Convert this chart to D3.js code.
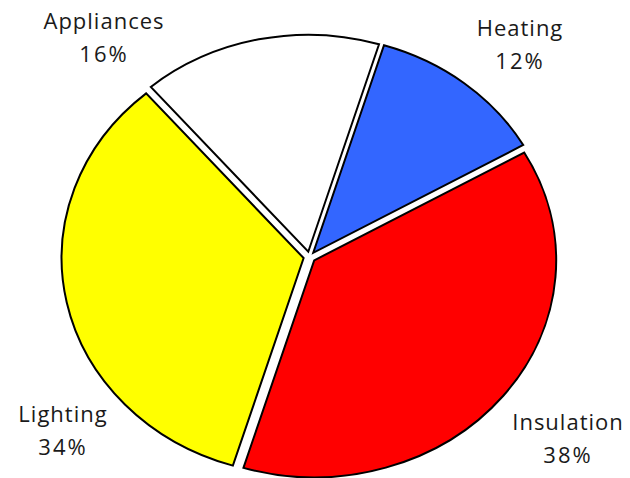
<!DOCTYPE html>
<html>
<head>
<meta charset="utf-8">
<script src="https://cdn.jsdelivr.net/npm/d3@7"></script>
<style>
  html, body { margin: 0; padding: 0; background: #fff; }
  text { font-family: "Open Sans", sans-serif; font-weight: 400; fill: #1a1a1a; }
</style>
</head>
<body>
<div id="chart"></div>
<script>
// data
const categories = ["Heating", "Insulation", "Lighting", "Appliances"];
const shares = [12, 38, 34, 16];
const colors = ["#3366ff", "#ff0000", "#ffff00", "#ffffff"];

const width = 630,
  height = 478,
  cx = 309.5,
  cy = 257,
  rx = 242,
  ry = 217,
  explode = 6;

// label positions (centre x, baseline of first line)
const labelPos = [[520, 35.5], [568, 430], [63, 422], [104, 29]];

const data = categories.map((c, i) => ({ name: c, value: shares[i], color: colors[i] }));

const start = 17 * Math.PI / 180;
const pie = d3.pie()
  .sort(null)
  .value(d => d.value)
  .startAngle(start)
  .endAngle(start + 2 * Math.PI);

const arc = d3.arc().innerRadius(0).outerRadius(rx);

const svg = d3.select("#chart")
  .append("svg")
  .attr("width", width)
  .attr("height", height);

const g = svg.append("g")
  .attr("transform", `translate(${cx},${cy}) scale(1,${ry / rx})`);

const slice = g.selectAll("g.slice")
  .data(pie(data))
  .enter()
  .append("g")
  .attr("class", "slice")
  .attr("transform", d => {
    const m = (d.startAngle + d.endAngle) / 2;
    return `translate(${Math.sin(m) * explode},${-Math.cos(m) * explode})`;
  });

slice.append("path")
  .attr("d", arc)
  .attr("fill", d => d.data.color)
  .attr("stroke", "#000")
  .attr("stroke-width", 2)
  .attr("stroke-linejoin", "miter")
  .attr("vector-effect", "non-scaling-stroke");

const labels = svg.selectAll("g.label")
  .data(data)
  .enter()
  .append("g")
  .attr("class", "label")
  .attr("transform", (d, i) => `translate(${labelPos[i][0]},${labelPos[i][1]})`);

labels.append("text")
  .attr("text-anchor", "middle")
  .attr("font-size", 22)
  .attr("letter-spacing", 1)
  .text(d => d.name);

labels.append("text")
  .attr("text-anchor", "middle")
  .attr("y", 33)
  .attr("font-size", 22)
  .attr("letter-spacing", 2)
  .text(d => d.value + "%");
</script>
</body>
</html>
